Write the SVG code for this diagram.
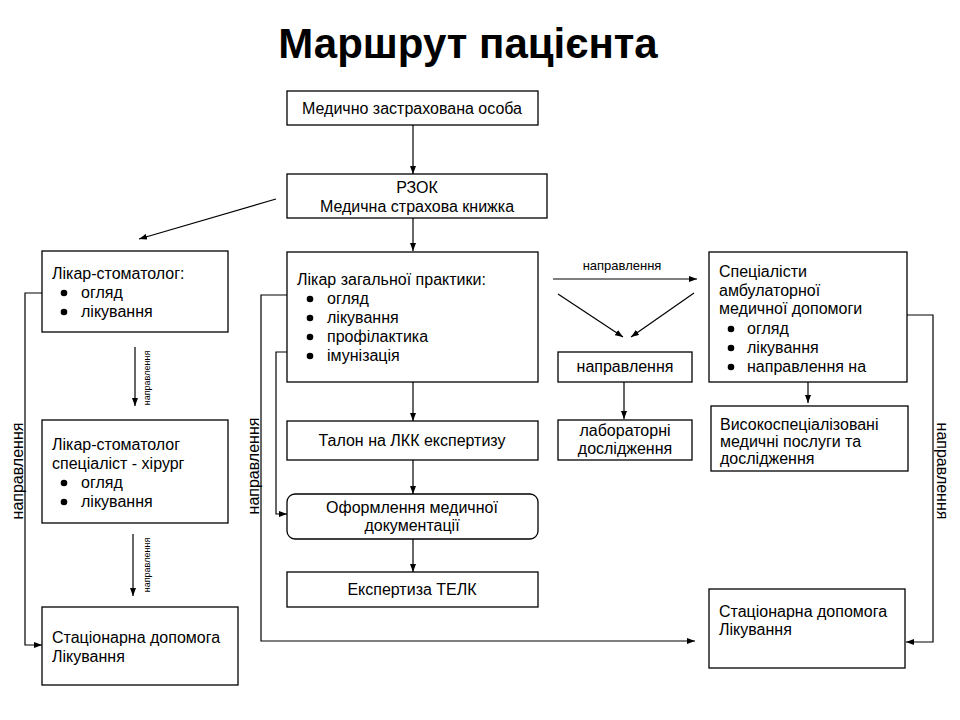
<svg xmlns="http://www.w3.org/2000/svg" width="960" height="720" viewBox="0 0 960 720">
<style>
.box{fill:#fff;stroke:#000;stroke-width:1.3}
.t{font-family:"Liberation Sans",Arial,sans-serif;font-size:16px;fill:#000}
.c{text-anchor:middle}
.ln{fill:none;stroke:#000;stroke-width:1.2}
.s{font-family:"Liberation Sans",Arial,sans-serif;font-size:9px;fill:#000}
.m{font-family:"Liberation Sans",Arial,sans-serif;font-size:13px;fill:#000}
</style>
<defs>
<marker id="ah" viewBox="0 0 8 6" refX="8" refY="3" markerWidth="8" markerHeight="6" markerUnits="userSpaceOnUse" orient="auto">
<path d="M0,0 L8,3 L0,6 z" fill="#000"/>
</marker>
</defs>
<rect width="960" height="720" fill="#fff"/>
<text x="468" y="58" text-anchor="middle" font-family="Liberation Sans,Arial,sans-serif" font-size="42" font-weight="bold">Маршрут пацієнта</text>

<g id="connectors">
<line class="ln" x1="413" y1="125" x2="413" y2="174" marker-end="url(#ah)"/>
<line class="ln" x1="413" y1="218" x2="413" y2="251" marker-end="url(#ah)"/>
<line class="ln" x1="276" y1="199" x2="139" y2="239" marker-end="url(#ah)"/>
<line class="ln" x1="413" y1="382" x2="413" y2="421" marker-end="url(#ah)"/>
<line class="ln" x1="413" y1="460" x2="413" y2="494" marker-end="url(#ah)"/>
<line class="ln" x1="413" y1="539" x2="413" y2="572" marker-end="url(#ah)"/>
<polyline class="ln" points="287,295 261,295 261,641 695,641" marker-end="url(#ah)"/>
<polyline class="ln" points="287,352 276,352 276,514 287,514" marker-end="url(#ah)"/>
<polyline class="ln" points="42,293 25,293 25,645 42,645" marker-end="url(#ah)"/>
<line class="ln" x1="135" y1="347" x2="135" y2="406" marker-end="url(#ah)"/>
<line class="ln" x1="133" y1="534" x2="133" y2="596" marker-end="url(#ah)"/>
<line class="ln" x1="553" y1="279" x2="697" y2="279" marker-end="url(#ah)"/>
<line class="ln" x1="558" y1="294" x2="623" y2="337" marker-end="url(#ah)"/>
<line class="ln" x1="694" y1="293" x2="631" y2="337" marker-end="url(#ah)"/>
<line class="ln" x1="624" y1="382" x2="624" y2="419" marker-end="url(#ah)"/>
<line class="ln" x1="808" y1="382" x2="808" y2="403" marker-end="url(#ah)"/>
<polyline class="ln" points="907,315 933,315 933,642 906,642" marker-end="url(#ah)"/>
<text class="t c" transform="translate(23,471) rotate(-90)">направлення</text>
<text class="t c" transform="translate(259,466) rotate(-90)">направлення</text>
<text class="t c" transform="translate(937,471) rotate(90)">направлення</text>
<text class="s c" transform="translate(150,378) rotate(-90)">направлення</text>
<text class="s c" transform="translate(150,565) rotate(-90)">направлення</text>
<text class="m c" x="622" y="270">направлення</text>
</g>

<g id="insured">
<rect class="box" x="287" y="91" width="251" height="34"/>
<text class="t c" x="412" y="114">Медично застрахована особа</text>
</g>
<g id="rzok">
<rect class="box" x="287" y="174" width="260" height="44"/>
<text class="t c" x="417" y="193">РЗОК</text>
<text class="t c" x="417" y="212">Медична страхова книжка</text>
</g>
<g id="gp">
<rect class="box" x="287" y="252" width="251" height="130"/>
<text class="t" x="297" y="285">Лікар загальної практики:</text>
<circle cx="310" cy="299" r="3.3"/><text class="t" x="327" y="304">огляд</text>
<circle cx="310" cy="318" r="3.3"/><text class="t" x="327" y="323">лікування</text>
<circle cx="310" cy="337" r="3.3"/><text class="t" x="327" y="342">профілактика</text>
<circle cx="310" cy="356" r="3.3"/><text class="t" x="327" y="361">імунізація</text>
</g>
<g id="talon">
<rect class="box" x="287" y="421" width="251" height="39"/>
<text class="t c" x="412" y="446">Талон на ЛКК експертизу</text>
</g>
<g id="docs">
<rect class="box" x="287" y="494" width="251" height="45" rx="8"/>
<text class="t c" x="412" y="513">Оформлення медичної</text>
<text class="t c" x="412" y="531">документації</text>
</g>
<g id="telk">
<rect class="box" x="287" y="572" width="251" height="35"/>
<text class="t c" x="412" y="595">Експертиза ТЕЛК</text>
</g>
<g id="dentist">
<rect class="box" x="42" y="251" width="186" height="81"/>
<text class="t" x="52" y="279">Лікар-стоматолог:</text>
<circle cx="64" cy="293" r="3.3"/><text class="t" x="81" y="298">огляд</text>
<circle cx="64" cy="312" r="3.3"/><text class="t" x="81" y="317">лікування</text>
</g>
<g id="surgeon">
<rect class="box" x="42" y="420" width="186" height="103"/>
<text class="t" x="52" y="450">Лікар-стоматолог</text>
<text class="t" x="52" y="469">спеціаліст - хірург</text>
<circle cx="64" cy="483" r="3.3"/><text class="t" x="81" y="488">огляд</text>
<circle cx="64" cy="502" r="3.3"/><text class="t" x="81" y="507">лікування</text>
</g>
<g id="hospital-left">
<rect class="box" x="42" y="607" width="196" height="78"/>
<text class="t" x="52" y="643">Стаціонарна допомога</text>
<text class="t" x="52" y="662">Лікування</text>
</g>
<g id="referral">
<rect class="box" x="558" y="352" width="134" height="30"/>
<text class="t c" x="625" y="372">направлення</text>
</g>
<g id="lab">
<rect class="box" x="558" y="420" width="134" height="40"/>
<text class="t c" x="625" y="436">лабораторні</text>
<text class="t c" x="625" y="454">дослідження</text>
</g>
<g id="specialists">
<rect class="box" x="709" y="252" width="198" height="130"/>
<text class="t" x="719" y="277">Спеціалісти</text>
<text class="t" x="719" y="296">амбулаторної</text>
<text class="t" x="719" y="314">медичної допомоги</text>
<circle cx="731" cy="329" r="3.3"/><text class="t" x="747" y="334">огляд</text>
<circle cx="731" cy="348" r="3.3"/><text class="t" x="747" y="353">лікування</text>
<circle cx="731" cy="367" r="3.3"/><text class="t" x="747" y="372">направлення на</text>
</g>
<g id="highspec">
<rect class="box" x="711" y="406" width="197" height="65"/>
<text class="t" x="720" y="430">Високоспеціалізовані</text>
<text class="t" x="720" y="447">медичні послуги та</text>
<text class="t" x="720" y="464">дослідження</text>
</g>
<g id="hospital-right">
<rect class="box" x="709" y="589" width="196" height="79"/>
<text class="t" x="719" y="617">Стаціонарна допомога</text>
<text class="t" x="719" y="635">Лікування</text>
</g>
</svg>
